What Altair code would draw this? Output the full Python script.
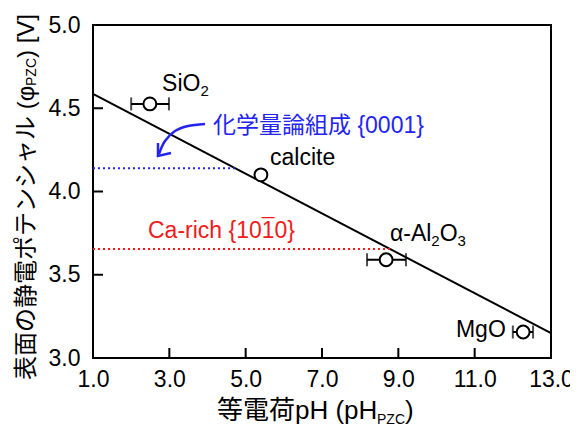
import altair as alt
import pandas as pd

FONT = "Liberation Sans, Noto Sans CJK JP"

# ---------------- data ----------------
materials = ["SiO2", "calcite", "α-Al2O3", "MgO"]
ph_pzc = [2.49, 5.40, 8.68, 12.27]
phi_pzc = [4.526, 4.100, 3.590, 3.156]
ph_err_lo = [2.00, 5.40, 8.18, 12.00]
ph_err_hi = [2.99, 5.40, 9.20, 12.53]
has_err = [True, False, True, True]

fit_ph = [1.0, 13.0]
fit_phi = [4.586, 3.150]

surface_phi = [4.14, 3.655]          # stoichiometric {0001}, Ca-rich {10-10}
surface_ph_start = [1.0, 1.0]
surface_ph_end = [4.73, 8.78]
surface_colors = ["#2424f2", "#f21a1a"]

arrow_curve_ph = [3.934, 3.489, 3.148, 2.886, 2.729]
arrow_curve_phi = [4.405, 4.393, 4.363, 4.303, 4.225]
arrow_head_ph = [2.703, 2.703, 3.044]
arrow_head_phi = [4.291, 4.213, 4.231]

x_ticks = [1.0, 3.0, 5.0, 7.0, 9.0, 11.0, 13.0]
y_ticks = [3.0, 3.5, 4.0, 4.5, 5.0]

W, H = 458, 333

xs = alt.Scale(domain=[1, 13], nice=False, zero=False)
ys = alt.Scale(domain=[3, 5], nice=False, zero=False)
xax = alt.Axis(values=x_ticks, format=".1f", ticks=False, tickSize=0, domain=False,
               grid=False, labelFontSize=23, labelPadding=10, labelFlush=False,
               labelOverlap=False, labelColor="black", title=None)
yax = alt.Axis(values=y_ticks, format=".1f", ticks=False, tickSize=0, domain=False,
               grid=False, labelFontSize=23, labelPadding=13, labelFlush=False,
               labelOverlap=False, labelColor="black", title=None)


def X(f):
    return alt.X(f, type="quantitative", scale=xs, axis=xax)


def Y(f):
    return alt.Y(f, type="quantitative", scale=ys, axis=yax)


pts = pd.DataFrame({"m": materials, "ph": ph_pzc, "phi": phi_pzc,
                    "lo": ph_err_lo, "hi": ph_err_hi, "e": has_err})
err = pts[pts["e"]]
caps = pd.DataFrame({"ph": list(err["lo"]) + list(err["hi"]),
                     "phi": list(err["phi"]) * 2})

fit = alt.Chart(pd.DataFrame({"ph": fit_ph, "phi": fit_phi})).mark_line(
    color="black", strokeWidth=2).encode(x=X("ph"), y=Y("phi"))

surf = alt.Chart(pd.DataFrame({"a": surface_ph_start, "b": surface_ph_end,
                               "phi": surface_phi, "c": surface_colors})).mark_rule(
    strokeDash=[2, 3], strokeWidth=2).encode(
    x=X("a"), x2="b", y=Y("phi"), color=alt.Color("c:N", scale=None))

ebar = alt.Chart(err).mark_rule(color="black", strokeWidth=2).encode(
    x=X("lo"), x2="hi", y=Y("phi"))
ecap = alt.Chart(caps).mark_tick(orient="vertical", size=13, thickness=2,
                                 color="black").encode(x=X("ph"), y=Y("phi"))
circ = alt.Chart(pts).mark_point(shape="circle", size=165, filled=True, fill="white",
                                 stroke="black", strokeWidth=2, opacity=1).encode(
    x=X("ph"), y=Y("phi"))

arrow_c = alt.Chart(pd.DataFrame({"ph": arrow_curve_ph, "phi": arrow_curve_phi,
                                  "o": list(range(len(arrow_curve_ph)))})).mark_line(
    color=surface_colors[0], strokeWidth=2.5, interpolate="cardinal").encode(
    x=X("ph"), y=Y("phi"), order="o:Q")
arrow_h = alt.Chart(pd.DataFrame({"ph": arrow_head_ph, "phi": arrow_head_phi,
                                  "o": [0, 1, 2]})).mark_line(
    color=surface_colors[0], strokeWidth=2.5).encode(
    x=X("ph"), y=Y("phi"), order="o:Q")

ytk = alt.Chart(pd.DataFrame({"v": y_ticks})).mark_rule(
    color="black", strokeWidth=2).encode(y=Y("v"), x=alt.value(0), x2=alt.value(10))
xtk = alt.Chart(pd.DataFrame({"v": x_ticks})).mark_rule(
    color="black", strokeWidth=2).encode(x=X("v"), y=alt.value(H), y2=alt.value(H - 10))


def dtext(t, x, y, size=23, color="black", dx=0, dy=0):
    return alt.Chart(pd.DataFrame({"x": [x], "y": [y], "t": [t]})).mark_text(
        align="left", baseline="alphabetic", dx=dx, dy=dy, fontSize=size,
        color=color).encode(x=X("x"), y=Y("y"), text="t:N")


def ptext(t, x, y, size, angle=0, align="left", baseline="alphabetic"):
    return alt.Chart(pd.DataFrame({"t": [t]})).mark_text(
        align=align, baseline=baseline, fontSize=size, angle=angle,
        color="black").encode(x=alt.value(x), y=alt.value(y), text="t:N")


labels = [
    dtext("SiO", 2.81, 4.604),
    dtext("2", 2.81, 4.604, size=15, dx=38.5, dy=5),
    dtext("calcite", 5.637, 4.159),
    dtext("α-Al", 8.78, 3.703),
    dtext("2", 8.78, 3.703, size=15, dx=41.4, dy=5),
    dtext("O", 8.78, 3.703, dx=49.7),
    dtext("3", 8.78, 3.703, size=15, dx=67.6, dy=5),
    dtext("MgO", 10.51, 3.126),
    dtext("化学量論組成 {0001}", 4.144, 4.351, color=surface_colors[0]),
    dtext("Ca-rich {1010}", 2.441, 3.721, color=surface_colors[1]),
    dtext("¯", 2.441, 3.721, color=surface_colors[1], dx=113.8, dy=-3),
]

titles = [
    ptext("等電荷pH (pH", 124, 394, 26),
    ptext("PZC", 284, 399, 14),
    ptext(")", 312, 394, 26),
    ptext("表面の静電ポテンシャル (φ", -66, 355, 24, angle=270, baseline="middle"),
    ptext("PZC", -61, 61, 14, angle=270, baseline="middle"),
    ptext(") [V]", -66, 33, 24, angle=270, baseline="middle"),
]

chart = alt.layer(fit, surf, arrow_c, arrow_h, ebar, ecap, circ, ytk, xtk,
                  *labels, *titles).properties(
    width=W, height=H, autosize="none",
    padding={"left": 85, "top": 17, "right": 19, "bottom": 68},
).configure(font=FONT).configure_view(stroke="black", strokeWidth=2)

chart.save("out.html", embed_options={"renderer": "svg", "actions": False})
